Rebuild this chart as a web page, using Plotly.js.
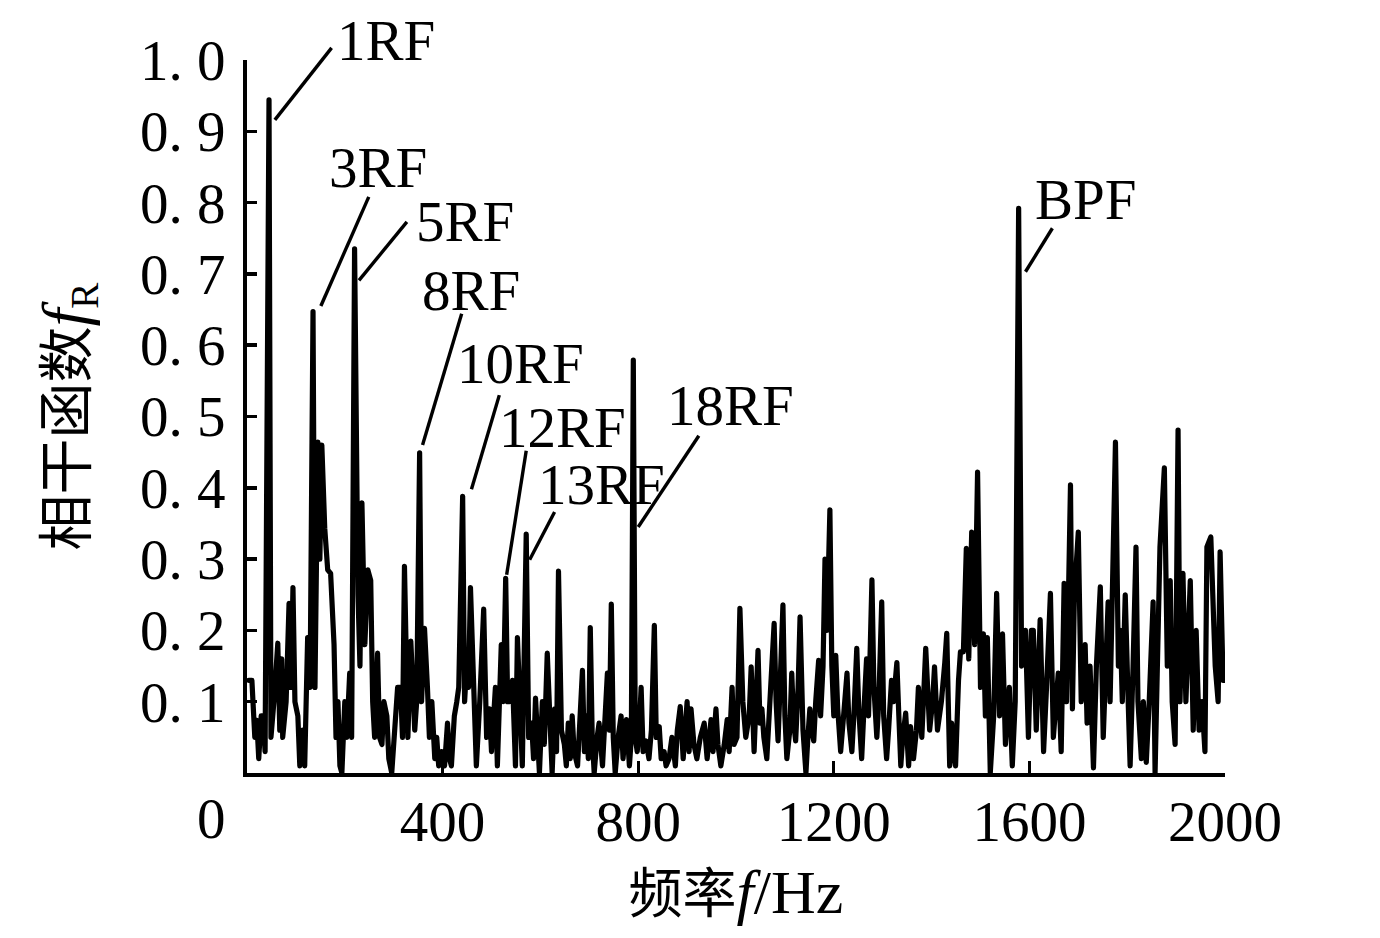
<!DOCTYPE html>
<html>
<head>
<meta charset="utf-8">
<script src="https://cdn.plot.ly/plotly-3.0.1.min.js"></script>
<style>
html,body{margin:0;padding:0;background:#fff;}
path.js-line{stroke-linejoin:round;stroke-linecap:round;}
</style>
</head>
<body>
<div id="chart" style="width:1380px;height:938px;"></div>
<script>
// Frequency (Hz)
const freq = [4,10,16,20,24,29,33,37,45,49,55,63,67,71,73,80,86,90,94,98,104,108,114,118,124,129,135,139,145,149,153,159,165,171,178,182,186,190,194,200,204,210,214,220,227,231,235,241,247,253,257,261,267,271,276,280,286,290,296,302,308,314,318,322,329,335,339,343,347,353,357,363,369,373,378,384,388,392,398,404,410,414,418,424,429,433,441,445,449,453,457,463,469,476,484,490,496,500,508,512,516,520,524,529,533,537,543,549,553,559,563,571,576,582,586,590,594,598,604,608,614,620,624,629,633,637,643,649,653,657,661,665,669,676,680,686,690,694,698,702,706,710,716,720,727,731,737,741,745,749,753,759,765,769,776,782,786,790,794,798,802,806,810,816,822,827,833,837,843,847,853,857,863,869,876,880,886,892,900,904,908,914,920,927,935,941,949,953,959,963,969,976,982,986,992,996,1002,1008,1014,1020,1027,1031,1037,1045,1049,1053,1057,1063,1069,1078,1082,1086,1090,1096,1100,1104,1110,1114,1118,1122,1127,1131,1137,1143,1147,1151,1155,1159,1163,1169,1173,1178,1182,1186,1192,1196,1200,1204,1208,1214,1220,1227,1231,1237,1241,1247,1251,1257,1261,1267,1271,1278,1282,1288,1292,1298,1302,1308,1312,1318,1322,1329,1333,1337,1341,1347,1353,1357,1363,1369,1373,1380,1388,1392,1396,1402,1406,1412,1416,1420,1427,1431,1437,1441,1445,1449,1455,1459,1465,1471,1476,1482,1488,1494,1500,1506,1510,1514,1520,1527,1533,1539,1545,1551,1559,1565,1571,1578,1584,1592,1598,1604,1608,1614,1622,1629,1635,1643,1649,1655,1659,1665,1671,1676,1684,1688,1692,1700,1706,1714,1718,1724,1731,1737,1745,1751,1757,1761,1765,1776,1782,1786,1790,1796,1802,1806,1812,1818,1822,1829,1833,1839,1845,1853,1857,1863,1867,1876,1882,1888,1892,1898,1904,1908,1914,1920,1929,1935,1941,1947,1953,1959,1963,1971,1976,1980,1986,1990,1996,2000];

// Coherence function f_R
const coh = [0.13,0.13,0.05,0.074,0.02,0.08,0.08,0.03,0.944,0.05,0.1,0.182,0.06,0.16,0.05,0.1,0.238,0.12,0.26,0.1,0.08,0.01,0.06,0.01,0.19,0.12,0.647,0.12,0.464,0.3,0.46,0.343,0.285,0.28,0.18,0.05,0.1,0.01,0.0,0.1,0.05,0.14,0.05,0.735,0.25,0.15,0.379,0.18,0.285,0.27,0.1,0.05,0.168,0.05,0.04,0.1,0.08,0.02,0.0,0.05,0.12,0.12,0.05,0.29,0.05,0.185,0.1,0.06,0.1,0.449,0.1,0.203,0.12,0.05,0.1,0.02,0.05,0.01,0.03,0.01,0.07,0.02,0.01,0.08,0.1,0.12,0.388,0.1,0.15,0.12,0.26,0.1,0.01,0.1,0.23,0.05,0.09,0.03,0.12,0.01,0.1,0.18,0.1,0.273,0.1,0.1,0.13,0.01,0.19,0.05,0.01,0.335,0.05,0.07,0.02,0.105,0.03,0.0,0.1,0.04,0.168,0.05,0.0,0.09,0.03,0.283,0.06,0.04,0.01,0.07,0.02,0.08,0.03,0.01,0.06,0.144,0.03,0.08,0.02,0.204,0.05,0.0,0.05,0.07,0.01,0.08,0.14,0.06,0.237,0.05,0.0,0.05,0.08,0.02,0.075,0.01,0.05,0.579,0.05,0.03,0.06,0.12,0.03,0.045,0.02,0.06,0.207,0.05,0.065,0.02,0.03,0.01,0.02,0.05,0.01,0.06,0.093,0.02,0.1,0.03,0.09,0.04,0.02,0.05,0.07,0.02,0.075,0.03,0.09,0.04,0.01,0.04,0.075,0.03,0.12,0.04,0.05,0.231,0.1,0.05,0.08,0.149,0.03,0.172,0.07,0.09,0.05,0.02,0.1,0.21,0.1,0.045,0.12,0.236,0.08,0.02,0.06,0.14,0.07,0.045,0.12,0.219,0.06,0.0,0.05,0.09,0.06,0.045,0.1,0.158,0.08,0.15,0.3,0.2,0.369,0.15,0.08,0.165,0.09,0.03,0.08,0.14,0.07,0.03,0.08,0.175,0.09,0.02,0.08,0.16,0.08,0.271,0.12,0.05,0.1,0.24,0.08,0.02,0.06,0.13,0.1,0.155,0.08,0.01,0.05,0.084,0.01,0.065,0.02,0.06,0.12,0.05,0.175,0.1,0.06,0.1,0.149,0.06,0.08,0.1,0.155,0.196,0.01,0.07,0.03,0.01,0.13,0.17,0.17,0.315,0.16,0.338,0.18,0.422,0.12,0.195,0.08,0.19,0.0,0.08,0.252,0.08,0.195,0.04,0.12,0.01,0.1,0.792,0.15,0.2,0.05,0.2,0.2,0.06,0.215,0.03,0.12,0.252,0.05,0.1,0.14,0.03,0.266,0.1,0.404,0.09,0.25,0.338,0.1,0.18,0.07,0.15,0.007,0.15,0.261,0.05,0.2,0.24,0.1,0.464,0.15,0.2,0.1,0.25,0.1,0.01,0.15,0.317,0.1,0.02,0.1,0.015,0.1,0.24,0.0,0.2,0.317,0.428,0.15,0.27,0.1,0.04,0.481,0.1,0.28,0.1,0.27,0.06,0.2,0.06,0.1,0.03,0.317,0.331,0.2,0.15,0.1,0.31,0.13,0.13];

// Tick labels
const xTickVals = [400, 800, 1200, 1600, 2000];
const xTickText = ['400', '800', '1200', '1600', '2000'];
const yTickVals = [0.1, 0.2, 0.3, 0.4, 0.5, 0.6, 0.7, 0.8, 0.9, 1.0];
const yTickText = ['0. 1', '0. 2', '0. 3', '0. 4', '0. 5', '0. 6', '0. 7', '0. 8', '0. 9', '1. 0'];

// Peak labels: text, text position (Hz, value), leader line start (Hz, value) and end (Hz, value)
const peakLabels = ['1RF', '3RF', '5RF', '8RF', '10RF', '12RF', '13RF', '18RF', 'BPF'];
const labelF = [284, 267, 445, 459, 559, 645, 724, 988, 1714];
const labelV = [1.028, 0.849, 0.773, 0.677, 0.574, 0.484, 0.404, 0.516, 0.804];
const leadF0 = [57, 151, 229, 359, 459, 531, 578, 800, 1592];
const leadV0 = [0.916, 0.655, 0.691, 0.46, 0.398, 0.278, 0.299, 0.345, 0.703];
const leadF1 = [173, 249, 327, 439, 516, 571, 629, 924, 1647];
const leadV1 = [1.017, 0.808, 0.773, 0.644, 0.530, 0.452, 0.366, 0.473, 0.764];

const X_RANGE = [0, 2000];
const Y_RANGE = [0, 1.0];
const serif = 'Liberation Serif, Times New Roman, serif';
const cjk = 'Liberation Serif, Noto Sans CJK SC';

const toPx = (f) => (f - X_RANGE[0]) / (X_RANGE[1] - X_RANGE[0]);
const toPy = (v) => (v - Y_RANGE[0]) / (Y_RANGE[1] - Y_RANGE[0]);

const trace = {
  x: freq, y: coh, type: 'scatter', mode: 'lines',
  line: {color: '#000', width: 5.2}, hoverinfo: 'skip', showlegend: false
};

const annotations = peakLabels.map((t, i) => ({
  x: labelF[i], y: toPy(labelV[i]), xref: 'x', yref: 'paper',
  text: t, showarrow: false, xanchor: 'center', yanchor: 'middle',
  font: {family: serif, size: 57, color: '#000'}
}));
annotations.push({
  x: 0, y: 0, xref: 'x', yref: 'paper', text: '0', showarrow: false,
  xanchor: 'center', yanchor: 'top', xshift: -36, yshift: -12,
  font: {family: serif, size: 57, color: '#000'}
});

const shapes = peakLabels.map((t, i) => ({
  type: 'line', xref: 'paper', yref: 'paper',
  x0: toPx(leadF0[i]), y0: toPy(leadV0[i]), x1: toPx(leadF1[i]), y1: toPy(leadV1[i]),
  line: {color: '#000', width: 3.4}
}));

const layout = {
  width: 1380, height: 938,
  margin: {l: 247, r: 155, t: 60, b: 165},
  paper_bgcolor: '#fff', plot_bgcolor: '#fff',
  font: {family: serif, color: '#000'},
  showlegend: false,
  xaxis: {
    range: X_RANGE, tickvals: xTickVals, ticktext: xTickText,
    ticks: 'inside', ticklen: 12, tickwidth: 3, tickcolor: '#000',
    showline: true, linewidth: 4, linecolor: '#000',
    showgrid: false, zeroline: false, ticklabelstandoff: -4,
    tickfont: {family: serif, size: 57, color: '#000'},
    title: {text: '频率<span style="font-size:62px"><i>f</i>/Hz</span>', standoff: 24,
      font: {family: cjk, size: 54, color: '#000'}}
  },
  yaxis: {
    range: Y_RANGE, tickvals: yTickVals, ticktext: yTickText,
    ticks: 'inside', ticklen: 10, tickwidth: 3.5, tickcolor: '#000',
    showline: true, linewidth: 4, linecolor: '#000',
    showgrid: false, zeroline: false, ticklabelstandoff: 6,
    tickfont: {family: serif, size: 57, color: '#000'},
    title: {text: '相干函数<span style="font-size:64px"><i>f</i></span><sub>R</sub>', standoff: 36,
      font: {family: cjk, size: 56, color: '#000'}}
  },
  annotations: annotations,
  shapes: shapes
};

Plotly.newPlot('chart', [trace], layout, {displayModeBar: false, staticPlot: true});
</script>
</body>
</html>
